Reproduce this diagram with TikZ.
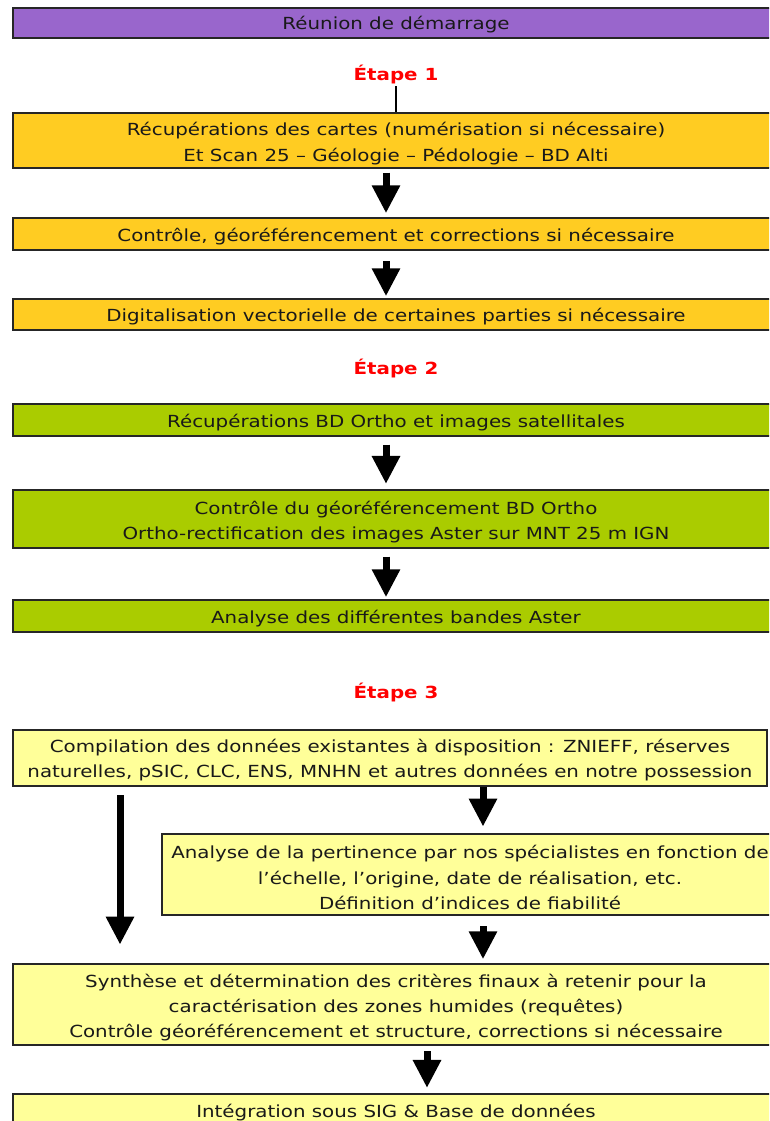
\documentclass[tikz,border=0pt]{standalone}
\usepackage{fontspec}
\setmainfont{DejaVu Sans}[FakeStretch=1.19]
\usetikzlibrary{arrows.meta,calc}
\definecolor{purp}{HTML}{9966CC}
\definecolor{orng}{HTML}{FFCC22}
\definecolor{grn}{HTML}{AACC00}
\definecolor{lyel}{HTML}{FFFF99}
\definecolor{etred}{HTML}{FF0000}
\begin{document}
\begin{tikzpicture}[x=0.75pt,y=-0.75pt,
  box/.style={draw=black!85, line width=1.1pt, inner sep=0pt},
  txt/.style={inner sep=0pt, align=center,
    font=\fontsize{12.5}{18.9}\selectfont, text=black!90},
  etape/.style={font=\fontsize{12.5}{14}\selectfont\bfseries, text=etred, inner sep=1pt},
  blockarrow/.style={line width=5.25pt, -{Triangle[width=20pt,length=21pt]}},
]
\useasboundingbox (0,0) rectangle (769,1121);
\clip (0,0) rectangle (769,1121);

\node[box, fill=purp, minimum width=574.5pt, minimum height=22.5pt] (r) at (396,23) {};
\node[txt] (tr) at ($(r.center)+(0,2)$) {Réunion de démarrage};

\node[etape] (e1) at (396,75) {Étape 1};
\node[box, fill=orng, minimum width=574.5pt, minimum height=41.25pt] (b1) at (396,140.5) {};
\node[txt] (t1) at ($(b1.center)+(0,3)$)
  {Récupérations des cartes (numérisation si nécessaire)\\Et Scan 25 – Géologie – Pédologie – BD Alti};
\node[box, fill=orng, minimum width=574.5pt, minimum height=24pt] (b2) at (396,234) {};
\node[txt] (t2) at ($(b2.center)+(0,2.5)$)
  {Contrôle, géoréférencement et corrections si nécessaire};
\node[box, fill=orng, minimum width=574.5pt, minimum height=23.25pt] (b3) at (396,314.5) {};
\node[txt] (t3) at ($(b3.center)+(0,2.5)$)
  {Digitalisation vectorielle de certaines parties si nécessaire};

\node[etape] (e2) at (396,369) {Étape 2};
\node[box, fill=grn, minimum width=574.5pt, minimum height=24pt] (b4) at (396,420) {};
\node[txt] (t4) at ($(b4.center)+(0,2.5)$)
  {Récupérations BD Ortho et images satellitales};
\node[box, fill=grn, minimum width=574.5pt, minimum height=43.5pt] (b5) at (396,519) {};
\node[txt] (t5) at ($(b5.center)+(0,3)$)
  {Contrôle du géoréférencement BD Ortho\\Ortho-rectification des images Aster sur MNT 25 m IGN};
\node[box, fill=grn, minimum width=574.5pt, minimum height=24pt] (b6) at (396,616) {};
\node[txt] (t6) at ($(b6.center)+(0,2.5)$)
  {Analyse des différentes bandes Aster};

\node[etape] (e3) at (396,692) {Étape 3};
\node[box, fill=lyel, minimum width=565.5pt, minimum height=42pt] (b7) at (390,758) {};
\node[txt] (t7) at ($(b7.center)+(0,2)$)
  {Compilation des données existantes à disposition : ZNIEFF, réserves\\naturelles, pSIC, CLC, ENS, MNHN et autres données en notre possession};
\node[box, fill=lyel, minimum width=462pt, minimum height=60.75pt] (b8) at (470,874.5) {};
\node[txt] (t8) at ($(b8.center)+(0,3)$)
  {Analyse de la pertinence par nos spécialistes en fonction de\\l'échelle, l’origine, date de réalisation, etc.\\Définition d’indices de fiabilité};
\node[box, fill=lyel, minimum width=574.5pt, minimum height=60.75pt] (b9) at (396,1004.5) {};
\node[txt] (t9) at ($(b9.center)+(0,3)$)
  {Synthèse et détermination des critères finaux à retenir pour la\\caractérisation des zones humides (requêtes)\\Contrôle géoréférencement et structure, corrections si nécessaire};
\node[box, fill=lyel, minimum width=574.5pt, minimum height=24pt] (b10) at (396,1110) {};
\node[txt] (t10) at ($(b10.center)+(0,2.5)$)
  {Intégration sous SIG \& Base de données};

\coordinate (xa) at (386,0);
\coordinate (xl) at (120,0);
\coordinate (xr) at (483,0);
\coordinate (xb) at (427,0);

\draw[line width=1.5pt] (e1.south) -- (b1.north);
\draw[blockarrow, shorten <=3pt, shorten >=3pt] (b1.south -| xa) -- (b2.north -| xa);
\draw[blockarrow, shorten <=8pt, shorten >=1.5pt] (b2.south -| xa) -- (b3.north -| xa);
\draw[blockarrow, shorten <=6pt, shorten >=4pt] (b4.south -| xa) -- (b5.north -| xa);
\draw[blockarrow, shorten <=6pt, shorten >=1.5pt] (b5.south -| xa) -- (b6.north -| xa);
\draw[blockarrow, shorten <=6.5pt, shorten >=14pt] (b7.south -| xl) -- (b9.north -| xl);
\draw[blockarrow, shorten <=0pt, shorten >=5pt] (b7.south -| xr) -- (b8.north -| xr);
\draw[blockarrow, shorten <=8pt, shorten >=3pt] (b8.south -| xr) -- (b9.north -| xr);
\draw[blockarrow, shorten <=4pt, shorten >=4pt] (b9.south -| xb) -- (b10.north -| xb);
\end{tikzpicture}
\end{document}
